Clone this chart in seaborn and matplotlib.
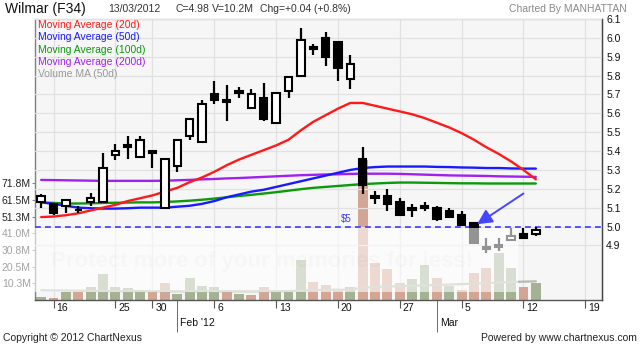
import matplotlib
matplotlib.use("Agg")
import matplotlib.pyplot as plt
import matplotlib.transforms as mtransforms
from matplotlib.patches import Rectangle
import numpy as np
import pandas as pd
import seaborn as sns

# ---------------- data ----------------
dates = ["2012-01-13", "2012-01-16", "2012-01-17", "2012-01-18", "2012-01-19", "2012-01-20",
         "2012-01-25", "2012-01-26", "2012-01-27", "2012-01-30", "2012-01-31",
         "2012-02-01", "2012-02-02", "2012-02-03", "2012-02-06", "2012-02-07", "2012-02-08",
         "2012-02-09", "2012-02-10", "2012-02-13", "2012-02-14", "2012-02-15", "2012-02-16",
         "2012-02-17", "2012-02-20", "2012-02-21", "2012-02-22", "2012-02-23", "2012-02-24",
         "2012-02-27", "2012-02-28", "2012-02-29", "2012-03-01", "2012-03-02", "2012-03-05",
         "2012-03-06", "2012-03-07", "2012-03-08", "2012-03-09", "2012-03-12", "2012-03-13"]
future_dates = ["2012-03-14", "2012-03-15", "2012-03-16", "2012-03-19", "2012-03-20"]

opens = [5.13, 5.12, 5.11, 5.09, 5.13, 5.13, 5.38, 5.43, 5.37, 5.40, 5.10, 5.32, 5.48, 5.45,
         5.70, 5.67, 5.71, 5.63, 5.68, 5.55, 5.72, 5.80, 5.95, 6.00, 5.98, 5.78, 5.36, 5.16,
         5.16, 5.13, 5.09, 5.10, 5.10, 5.08, 5.06, 5.02, 4.89, 4.89, 4.93, 4.96, 4.96]
highs = [5.17, 5.12, 5.14, 5.11, 5.18, 5.39, 5.44, 5.48, 5.48, 5.40, 5.36, 5.46, 5.57, 5.67,
         5.77, 5.75, 5.74, 5.73, 5.76, 5.71, 5.79, 6.05, 5.97, 6.03, 5.98, 5.91, 5.42, 5.19,
         5.20, 5.15, 5.12, 5.13, 5.11, 5.10, 5.08, 5.02, 4.94, 4.94, 4.99, 4.99, 5.00]
lows = [5.10, 5.06, 5.07, 5.07, 5.11, 5.13, 5.35, 5.36, 5.37, 5.31, 5.10, 5.29, 5.46, 5.45,
        5.65, 5.56, 5.68, 5.63, 5.56, 5.55, 5.68, 5.79, 5.91, 5.85, 5.77, 5.73, 5.17, 5.12,
        5.08, 5.06, 5.05, 5.08, 5.03, 5.05, 5.01, 4.91, 4.86, 4.87, 4.93, 4.94, 4.95]
closes = [5.16, 5.07, 5.14, 5.09, 5.15, 5.31, 5.40, 5.42, 5.46, 5.39, 5.36, 5.46, 5.57, 5.65,
          5.67, 5.66, 5.72, 5.70, 5.57, 5.71, 5.79, 5.99, 5.94, 5.90, 5.84, 5.86, 5.22, 5.15,
          5.12, 5.06, 5.10, 5.11, 5.04, 5.05, 5.01, 4.91, 4.88, 4.90, 4.95, 4.94, 4.98]
volume_m = [2.0, 1.3, 5.0, 5.0, 8.3, 16.3, 7.7, 7.1, 5.4, 5.4, 10.2, 3.4, 13.8, 8.9, 8.3,
            5.0, 4.0, 2.8, 7.7, 5.0, 5.0, 24.9, 10.8, 9.5, 5.4, 7.7, 86.5, 22.9, 18.8, 10.2,
            13.2, 21.8, 13.8, 8.5, 6.0, 16.9, 19.4, 29.2, 19.4, 8.3, 10.2]

ma20 = [5.050, 5.053, 5.060, 5.070, 5.085, 5.100, 5.115, 5.135, 5.150, 5.165, 5.185, 5.205,
        5.235, 5.260, 5.290, 5.325, 5.355, 5.380, 5.405, 5.430, 5.460, 5.510, 5.555, 5.590,
        5.625, 5.655, 5.655, 5.640, 5.625, 5.610, 5.595, 5.575, 5.550, 5.525, 5.495, 5.460,
        5.420, 5.385, 5.345, 5.300, 5.250]
ma50 = [5.128, 5.120, 5.110, 5.100, 5.097, 5.095, 5.095, 5.097, 5.100, 5.100, 5.100, 5.105,
        5.110, 5.120, 5.135, 5.155, 5.170, 5.185, 5.195, 5.210, 5.225, 5.240, 5.255, 5.270,
        5.285, 5.300, 5.310, 5.315, 5.318, 5.318, 5.318, 5.318, 5.316, 5.315, 5.313, 5.312,
        5.310, 5.310, 5.308, 5.307, 5.307]
ma100 = [5.128, 5.125, 5.122, 5.122, 5.123, 5.125, 5.126, 5.127, 5.128, 5.128, 5.130, 5.133,
         5.137, 5.142, 5.148, 5.155, 5.162, 5.168, 5.175, 5.182, 5.190, 5.198, 5.205, 5.210,
         5.215, 5.220, 5.225, 5.228, 5.231, 5.233, 5.233, 5.232, 5.231, 5.230, 5.229, 5.229,
         5.228, 5.228, 5.228, 5.228, 5.228]
ma200 = [5.247, 5.246, 5.245, 5.244, 5.243, 5.242, 5.242, 5.242, 5.242, 5.242, 5.243, 5.245,
         5.247, 5.250, 5.252, 5.255, 5.257, 5.260, 5.263, 5.266, 5.269, 5.272, 5.274, 5.276,
         5.277, 5.279, 5.280, 5.280, 5.280, 5.279, 5.277, 5.275, 5.273, 5.271, 5.270, 5.269,
         5.268, 5.266, 5.265, 5.264, 5.263]
vol_ma50 = [6.0, 5.9, 5.8, 5.7, 5.6, 5.6, 5.5, 5.5, 5.5, 5.4, 5.4, 5.4, 5.4, 5.4, 5.4, 5.4,
            5.4, 5.4, 5.4, 5.4, 5.5, 5.8, 6.0, 6.2, 6.3, 6.4, 7.6, 8.0, 8.3, 8.5, 8.7, 9.0,
            9.3, 9.5, 9.8, 10.1, 10.4, 10.8, 11.1, 11.3, 11.5]

price_ticks = [4.9, 5.0, 5.1, 5.2, 5.3, 5.4, 5.5, 5.6, 5.7, 5.8, 5.9, 6.0, 6.1]
vol_ticks = [10.26, 20.51, 30.77, 41.03, 51.29, 61.54, 71.80]
vol_tick_labels = ["10.3M", "20.5M", "30.8M", "41.0M", "51.3M", "61.5M", "71.8M"]
day_ticks = {"2012-01-16": "16", "2012-01-25": "25", "2012-01-30": "30", "2012-02-06": "6",
             "2012-02-13": "13", "2012-02-20": "20", "2012-02-27": "27", "2012-03-05": "5",
             "2012-03-12": "12", "2012-03-19": "19"}
month_ticks = {"2012-02-01": "Feb '12", "2012-03-01": "Mar"}
ma_names = ["Moving Average (200d)", "Moving Average (100d)", "Moving Average (50d)",
            "Moving Average (20d)"]
legend_labels = ["Moving Average (20d)", "Moving Average (50d)", "Moving Average (100d)",
                 "Moving Average (200d)", "Volume MA (50d)"]
support_level = 5.0
arrow_tail = (39.0, 5.175)
arrow_head = (35.25, 5.012)

# ---------------- style ----------------
RED, BLUE, GREEN, PURPLE, GREY = "#ff1a1a", "#1a1aff", "#0a9a0a", "#a020f0", "#9a9a9a"
VOL_UP, VOL_DN = "#a4b293", "#d2a595"
sns.set_style("white")
plt.rcParams["font.family"] = ["Liberation Sans", "DejaVu Sans"]

axis_dates = dates + future_dates
pos = {d: i for i, d in enumerate(axis_dates)}
x = np.array([pos[d] for d in dates], dtype=float)
o, h, l, c = map(np.array, (opens, highs, lows, closes))
prev = np.concatenate([[c[0] - 1], c[:-1]])
vol_dir = np.where(c >= prev, "up", "down")

W, H = 640, 346
fig = plt.figure(figsize=(W / 100, H / 100), dpi=100)
fig.patch.set_facecolor("white")
ax = fig.add_axes([35 / W, 46 / H, 567 / W, 281 / H])
ax.set_facecolor("#f6f6f6")

# volume bars
df_vol = pd.DataFrame({"x": x, "vol": volume_m, "dir": vol_dir})
sns.barplot(data=df_vol, x="x", y="vol", hue="dir", palette={"up": VOL_UP, "down": VOL_DN},
            native_scale=True, width=0.8, dodge=False, legend=False, errorbar=None,
            saturation=1, linewidth=0, ax=ax)
sns.lineplot(x=x, y=vol_ma50, ax=ax, color="#b4bcac", lw=1.6)
ax.set_ylim(0, 173)
ax.set_xlim(-0.5, 45.35)
ax.set_xlabel("")
ax.set_ylabel("")
ax.set_yticks(vol_ticks)
ax.set_yticklabels(vol_tick_labels)
ax.tick_params(axis="y", left=True, length=2, pad=1, labelsize=7.5, colors="#222",
               color="#888")

major_x = [pos[d] for d in day_ticks]
minor_x = [pos[d] for d in month_ticks]
ax.set_xticks(major_x)
ax.set_xticklabels(list(day_ticks.values()))
ax.set_xticks(minor_x, minor=True)
ax.set_xticklabels(list(month_ticks.values()), minor=True)
ax.tick_params(axis="x", which="major", bottom=True, length=6, pad=-3.5, labelsize=7.5,
               color="#555", labelcolor="#111")
ax.tick_params(axis="x", which="minor", bottom=True, length=23, pad=-10, labelsize=7.5,
               color="#555", labelcolor="#111")
off = mtransforms.ScaledTranslation(2 / 72, 0, fig.dpi_scale_trans)
for lab in ax.get_xticklabels(which="both"):
    lab.set_horizontalalignment("left")
    lab.set_transform(lab.get_transform() + off)
ax.grid(True, axis="x", which="major", color="#e1e1e1", lw=0.9)
ax.set_axisbelow(True)
for s, col in (("left", "#808080"), ("bottom", "#555555"), ("top", "#d0d0d0"),
               ("right", "#444444")):
    ax.spines[s].set_color(col)
    ax.spines[s].set_linewidth(1)

# price axis
ax2 = ax.twinx()
ax2.set_ylim(4.6105, 6.0895)
ax2.set_yticks(price_ticks)
ax2.set_yticklabels([f"{v:.1f}" for v in price_ticks])
ax2.tick_params(axis="y", right=True, length=0, pad=3, labelsize=7.5, colors="#111")
ax2.yaxis.grid(True, color="#e1e1e1", lw=0.9)
ax2.set_axisbelow(True)
for s in ("left", "top", "bottom"):
    ax2.spines[s].set_visible(False)
ax2.spines["right"].set_color("#444444")

ma_df = pd.DataFrame({
    "x": np.tile(x, 4),
    "v": np.concatenate([ma200, ma100, ma50, ma20]),
    "ma": np.repeat(ma_names, len(x)),
})
sns.lineplot(data=ma_df, x="x", y="v", hue="ma", sort=False, legend=False, lw=1.7,
             palette={ma_names[0]: PURPLE, ma_names[1]: GREEN, ma_names[2]: BLUE,
                      ma_names[3]: RED}, ax=ax2, zorder=2)
ax2.set_xlabel("")
ax2.set_ylabel("")

ax2.axhline(support_level, color="#3c3cff", lw=1.2, ls=(0, (3.5, 2.5)), zorder=2.5)
ax2.text(24.2, support_level + 0.012, "\\$5", color="#3c3cff", fontsize=7, va="bottom",
         ha="left")

up = c >= o
ax2.vlines(x, l, h, color="black", lw=1.6, zorder=3)
ax2.bar(x, c - o, bottom=o, width=0.6, color=np.where(up, "white", "black"),
        edgecolor="black", linewidth=1.5, zorder=4)

ax2.annotate("", xy=arrow_head, xytext=arrow_tail,
             arrowprops=dict(arrowstyle="-|>,head_length=0.9,head_width=0.45",
                             color="#4646ff", lw=1.4, shrinkA=0, shrinkB=0), zorder=5)
ax2.set_xlim(-0.5, 45.35)

# photobucket overlay band
fig.add_artist(Rectangle((0, 54 / H), 518 / W, 64.5 / H, transform=fig.transFigure,
                         facecolor="white", alpha=0.58, edgecolor="none", zorder=10))
fig.text(262 / W, 1 - 261 / H, "Protect more of your memories for less!", fontsize=16,
         color="black", alpha=0.018, ha="center", va="center", fontweight="bold", zorder=11)

# header
ty = 1 - 9 / H
fig.text(5 / W, ty, "Wilmar (F34)", fontsize=10, color="#111", va="center")
fig.text(108 / W, ty, "13/03/2012", fontsize=7.5, color="#333", va="center")
fig.text(175 / W, ty, f"C={closes[-1]:.2f}", fontsize=7.5, color="#333", va="center")
fig.text(212 / W, ty, "V=10.2M", fontsize=7.5, color="#333", va="center")
fig.text(260 / W, ty, "Chg=+0.04 (+0.8%)", fontsize=7.5, color="#333", va="center")
fig.text(627 / W, ty, "Charted By MANHATTAN", fontsize=7.5, color="#8a8a8a", va="center",
         ha="right")

# legend
for i, (lab, col) in enumerate(zip(legend_labels, [RED, BLUE, GREEN, PURPLE, GREY])):
    fig.text(38 / W, 1 - (25 + 12.3 * i) / H, lab, fontsize=7.5, color=col, va="center")

# footer
fy = 1 - 338 / H
fig.text(3 / W, fy, "Copyright © 2012 ChartNexus", fontsize=7.5, color="#222", va="center")
fig.text(637 / W, fy, "Powered by www.chartnexus.com", fontsize=7.5, color="#222",
         va="center", ha="right")

fig.savefig("out.png", dpi=100)
